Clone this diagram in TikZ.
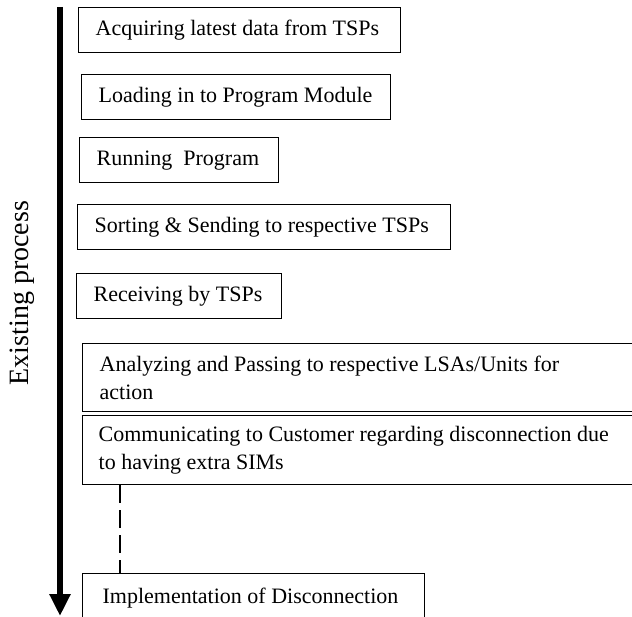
\documentclass[tikz,border=0pt]{standalone}
\usepackage{fontspec}
\setmainfont{Liberation Serif}
\usetikzlibrary{arrows.meta}

\begin{document}
\begin{tikzpicture}[x=1pt, y=-1pt, line width=1.3pt,
			stage/.style={draw, anchor=north west, align=flush left, inner xsep=17pt, inner ysep=0pt,
				minimum height=45pt, text width=#1, font=\fontsize{22}{28}\selectfont}]
			\useasboundingbox (0, 0) rectangle (632, 617);

			\coordinate (TOP) at (60, 7);
			\coordinate (END) at (60, 616);
			\draw[line width=6pt, -{Triangle[width=20pt, length=22pt]}] (TOP) -- (END);
			\node[rotate=90, inner sep=0pt, font=\fontsize{28}{34}\selectfont] (EP) at (22, 293) {Existing process};

			\node[stage=288pt] (ACQ) at (78, 7) {Acquiring latest data from TSPs};
			\node[stage=275pt] (LOAD) at (81, 74) {Loading in to Program Module};
			\node[stage=165pt] (RUN) at (79, 137) {Running\ \ Program};
			\node[stage=339pt] (SORT) at (77, 204) {Sorting \& Sending to respective TSPs};
			\node[stage=171pt] (RECV) at (76, 273) {Receiving by TSPs};
			\node[stage=560pt, minimum height=68pt] (ANA) at (82, 343) {Analyzing and Passing to respective LSAs/Units for\\action};
			\node[stage=560pt, minimum height=69pt, inner xsep=16pt] (COMM) at (82, 415) {Communicating to Customer regarding disconnection due\\to having extra SIMs};
			\node[stage=302pt, minimum height=49pt, inner xsep=20pt] (IMPL) at (82, 573) {Implementation of Disconnection};

			\coordinate (DROP) at (120, 0);
			\draw[line width=2.4pt, dash pattern=on 18pt off 7pt] (DROP |- COMM.south) -- (DROP |- IMPL.north);
			\end{tikzpicture}
\end{document}
